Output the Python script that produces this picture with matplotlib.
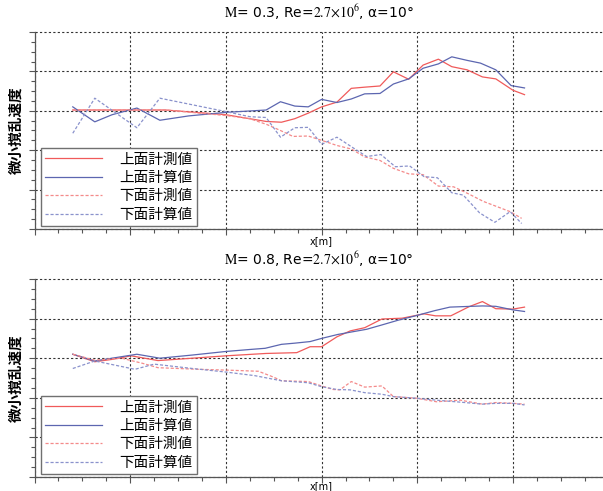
import matplotlib
matplotlib.use("Agg")
import matplotlib.pyplot as plt
from matplotlib.ticker import MultipleLocator, NullFormatter

plt.rcParams["font.family"] = ["Noto Sans CJK JP", "DejaVu Sans"]
plt.rcParams["mathtext.fontset"] = "stix"

# ---- M=0.3 panel ----
x_up_meas_03 = [0.40, 1.37, 2.00, 2.42, 2.58, 2.72, 2.86, 3.00, 3.16, 3.31, 3.45,
                3.61, 3.75, 3.91, 4.06, 4.22, 4.36, 4.52, 4.68, 4.82, 5.00, 5.12]
y_up_meas_03 = [3.02, 3.02, 2.90, 2.73, 2.71, 2.80, 2.94, 3.10, 3.22, 3.57, 3.60,
                3.63, 3.99, 3.80, 4.16, 4.31, 4.12, 4.04, 3.86, 3.81, 3.52, 3.41]

x_up_calc_03 = [0.40, 0.63, 0.81, 1.07, 1.31, 1.61, 2.00, 2.42, 2.57, 2.72, 2.86,
                3.00, 3.16, 3.31, 3.45, 3.61, 3.75, 3.91, 4.06, 4.22, 4.36, 4.52,
                4.66, 4.82, 4.98, 5.12]
y_up_calc_03 = [3.10, 2.72, 2.90, 3.07, 2.76, 2.87, 2.96, 3.02, 3.23, 3.12, 3.10,
                3.29, 3.21, 3.30, 3.43, 3.44, 3.68, 3.81, 4.08, 4.19, 4.37, 4.28,
                4.21, 4.04, 3.64, 3.58]

x_lo_meas_03 = [0.40, 1.37, 2.00, 2.25, 2.43, 2.57, 2.70, 2.86, 3.00, 3.16, 3.31,
                3.45, 3.61, 3.75, 3.91, 4.06, 4.22, 4.38, 4.52, 4.69, 4.83, 4.97, 5.09]
y_lo_meas_03 = [3.02, 3.02, 2.88, 2.80, 2.65, 2.50, 2.35, 2.36, 2.25, 2.12, 2.03,
                1.83, 1.74, 1.54, 1.40, 1.38, 1.09, 1.07, 0.91, 0.70, 0.57, 0.44, 0.27]

x_lo_calc_03 = [0.40, 0.63, 1.07, 1.31, 2.00, 2.25, 2.42, 2.57, 2.72, 2.86, 3.00,
                3.16, 3.31, 3.47, 3.62, 3.77, 3.92, 4.07, 4.21, 4.36, 4.48, 4.65,
                4.81, 4.97, 5.09]
y_lo_calc_03 = [2.43, 3.32, 2.57, 3.32, 2.98, 2.85, 2.83, 2.33, 2.57, 2.58, 2.15,
                2.33, 2.09, 1.84, 1.89, 1.58, 1.60, 1.33, 1.30, 0.92, 0.86, 0.41,
                0.17, 0.44, 0.14]

# ---- M=0.8 panel ----
x_up_meas_08 = [0.40, 0.63, 0.81, 1.01, 1.29, 1.65, 2.00, 2.42, 2.74, 2.88, 3.00,
                3.16, 3.30, 3.45, 3.63, 3.84, 4.07, 4.19, 4.35, 4.54, 4.68, 4.82,
                5.00, 5.12]
y_up_meas_08 = [3.10, 2.91, 2.97, 3.06, 2.94, 3.00, 3.06, 3.12, 3.14, 3.29, 3.29,
                3.54, 3.69, 3.77, 3.99, 4.01, 4.12, 4.07, 4.07, 4.30, 4.43, 4.25,
                4.24, 4.29]

x_up_calc_08 = [0.40, 0.63, 0.81, 1.07, 1.31, 1.65, 2.00, 2.25, 2.41, 2.58, 2.72,
                2.88, 3.00, 3.17, 3.33, 3.47, 3.63, 3.80, 3.98, 4.18, 4.34, 4.45,
                4.68, 4.82, 5.00, 5.12]
y_up_calc_08 = [3.10, 2.93, 3.00, 3.10, 3.00, 3.08, 3.17, 3.22, 3.25, 3.35, 3.38,
                3.42, 3.50, 3.60, 3.67, 3.73, 3.84, 3.96, 4.07, 4.20, 4.29, 4.30,
                4.32, 4.31, 4.22, 4.18]

x_lo_meas_08 = [0.40, 0.63, 0.91, 1.13, 1.29, 1.71, 2.00, 2.34, 2.50, 2.58, 2.86,
                3.00, 3.12, 3.19, 3.31, 3.45, 3.63, 3.75, 3.99, 4.20, 4.45, 4.68,
                4.82, 5.00, 5.12]
y_lo_meas_08 = [3.10, 2.95, 3.00, 2.87, 2.76, 2.72, 2.70, 2.67, 2.52, 2.43, 2.41,
                2.30, 2.21, 2.20, 2.41, 2.27, 2.30, 2.03, 1.99, 1.90, 1.94, 1.84,
                1.88, 1.86, 1.84]

x_lo_calc_08 = [0.40, 0.63, 1.05, 1.25, 1.65, 2.00, 2.30, 2.58, 2.86, 3.00, 3.16,
                3.30, 3.45, 3.63, 3.75, 3.99, 4.20, 4.45, 4.68, 4.82, 5.00, 5.12]
y_lo_calc_08 = [2.74, 2.93, 2.72, 2.85, 2.74, 2.65, 2.56, 2.43, 2.38, 2.28, 2.21,
                2.20, 2.13, 2.09, 2.03, 1.99, 1.94, 1.89, 1.84, 1.86, 1.86, 1.82]

legend_labels = ["上面計測値", "上面計算値", "下面計測値", "下面計算値"]
titles = [r"$\mathrm{M}$= 0.3, Re=$\mathrm{2.7{\times}10^{6}}$, α=10°",
          r"$\mathrm{M}$= 0.8, Re=$\mathrm{2.7{\times}10^{6}}$, α=10°"]
ylabel = "微小撹乱速度"
xlabel = "x[m]"

RED = "#f05a5a"
BLUE = "#5c66b0"
RED_L = "#f48a8a"
BLUE_L = "#8a92cc"


def draw_panel(ax, series, title, xlabel_off):
    (xa, ya), (xb, yb), (xc, yc), (xd, yd) = series
    ax.plot(xa, ya, color=RED, lw=0.9)
    ax.plot(xb, yb, color=BLUE, lw=0.9)
    ax.plot(xc, yc, color=RED_L, lw=0.9, dashes=(2.5, 1.5))
    ax.plot(xd, yd, color=BLUE_L, lw=0.9, dashes=(2.5, 1.5))

    ax.set_xlim(0, 5.94)
    ax.set_ylim(0, 5)
    ax.xaxis.set_major_locator(MultipleLocator(1))
    ax.xaxis.set_minor_locator(MultipleLocator(0.25))
    ax.yaxis.set_major_locator(MultipleLocator(1))
    ax.yaxis.set_minor_locator(MultipleLocator(0.25))
    ax.xaxis.set_major_formatter(NullFormatter())
    ax.yaxis.set_major_formatter(NullFormatter())
    ax.tick_params(which="both", direction="out", color="#555555", width=0.8)
    ax.tick_params(which="major", length=4)
    ax.tick_params(which="minor", length=3)
    ax.grid(True, which="major", color="#333333", lw=0.8, ls=(0, (2, 2)))
    for ln in ax.get_ygridlines():
        ln.set_clip_on(False)
    for s in ("top", "right"):
        ax.spines[s].set_visible(False)
    for s in ("left", "bottom"):
        ax.spines[s].set_color("#555555")
        ax.spines[s].set_linewidth(0.9)

    ax.set_title(title, fontsize=10, pad=10, family=["DejaVu Sans"])
    ax.annotate(xlabel, xy=(0.504, 0), xycoords="axes fraction",
                xytext=(0, xlabel_off), textcoords="offset points", ha="center",
                va="center", fontsize=7, family=["DejaVu Sans"])
    ax.text(-0.034, 0.5, ylabel, transform=ax.transAxes, rotation=90,
            ha="center", va="center", fontsize=10.5, fontweight="bold")

    leg = ax.legend(legend_labels, loc="lower left",
                    bbox_to_anchor=(0.0114, 0.015), borderaxespad=0,
                    fontsize=10.5, handlelength=3.9, handletextpad=1.15,
                    labelspacing=0.3, borderpad=0.3, fancybox=False,
                    framealpha=1, edgecolor="#707070")
    leg.get_frame().set_linewidth(1.0)


fig = plt.figure(figsize=(6.03, 4.91), dpi=100)
ax1 = fig.add_axes([34.5 / 603, (491 - 229) / 491, 568.5 / 603, 197 / 491])
ax2 = fig.add_axes([34.5 / 603, (491 - 477) / 491, 568.5 / 603, 198 / 491])

draw_panel(ax1, [(x_up_meas_03, y_up_meas_03), (x_up_calc_03, y_up_calc_03),
                 (x_lo_meas_03, y_lo_meas_03), (x_lo_calc_03, y_lo_calc_03)],
           titles[0], -8.5)
draw_panel(ax2, [(x_up_meas_08, y_up_meas_08), (x_up_calc_08, y_up_calc_08),
                 (x_lo_meas_08, y_lo_meas_08), (x_lo_calc_08, y_lo_calc_08)],
           titles[1], -6.3)

fig.savefig("out.png", dpi=100)
